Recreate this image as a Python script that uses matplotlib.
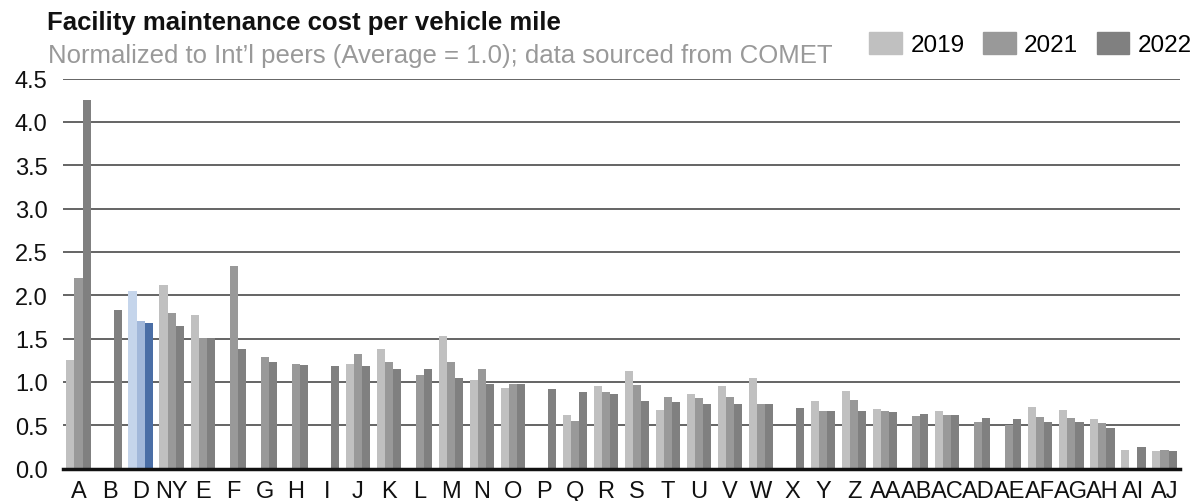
import matplotlib
matplotlib.use("Agg")
import matplotlib.pyplot as plt
import numpy as np

plt.rcParams['font.family'] = ['Liberation Sans', 'DejaVu Sans']

nan = np.nan

# categories and values (normalized cost)
categories = ["A", "B", "D", "NY", "E", "F", "G", "H", "I", "J", "K", "L", "M", "N", "O",
              "P", "Q", "R", "S", "T", "U", "V", "W", "X", "Y", "Z", "AA", "AB", "AC",
              "AD", "AE", "AF", "AG", "AH", "AI", "AJ"]
years = ["2019", "2021", "2022"]
v2019 = [1.25, nan, 2.05, 2.12, 1.77, nan, nan, nan, nan, 1.21, 1.38, nan, 1.53, 1.02, 0.93,
         nan, 0.62, 0.95, 1.13, 0.67, 0.86, 0.95, 1.05, nan, 0.78, 0.90, 0.69, nan, 0.66,
         nan, nan, 0.71, 0.67, 0.57, 0.21, 0.20]
v2021 = [2.20, nan, 1.70, 1.79, 1.51, 2.34, 1.29, 1.21, nan, 1.32, 1.23, 1.08, 1.23, 1.15, 0.97,
         nan, 0.55, 0.88, 0.96, 0.82, 0.81, 0.83, 0.75, nan, 0.66, 0.79, 0.66, 0.61, 0.62,
         0.54, 0.50, 0.60, 0.58, 0.52, nan, 0.21]
v2022 = [4.25, 1.83, 1.68, 1.65, 1.51, 1.38, 1.23, 1.20, 1.18, 1.18, 1.15, 1.15, 1.04, 0.97, 0.97,
         0.92, 0.88, 0.86, 0.78, 0.77, 0.75, 0.74, 0.74, 0.70, 0.66, 0.66, 0.65, 0.63, 0.62,
         0.58, 0.57, 0.54, 0.54, 0.47, 0.25, 0.20]
highlight = "D"

grey = ["#c0c0c0", "#999999", "#808080"]
blue = ["#c5d5eb", "#a2b8da", "#4a6ea6"]

fig = plt.figure(figsize=(11.99, 5.02), dpi=100)
ax = fig.add_axes([63 / 1199, 1 - 469.5 / 502, (1180 - 63) / 1199, (469.5 - 79.5) / 502])

x = np.arange(len(categories))
w = 0.26
for i, (vals, yr) in enumerate(zip([v2019, v2021, v2022], years)):
    cols = [blue[i] if c == highlight else grey[i] for c in categories]
    ax.bar(x + (i - 1) * w, vals, width=w, color=cols, label=yr, zorder=3, linewidth=0)

ax.set_xlim(-0.5, len(categories) - 0.5)
ax.set_ylim(0, 4.5)
ax.set_yticks(np.arange(0, 4.51, 0.5))
ax.set_yticklabels([f"{t:.1f}" for t in np.arange(0, 4.51, 0.5)])
ax.set_xticks(x)
ax.set_xticklabels(categories)
ax.tick_params(axis='both', length=0, labelsize=17, colors='#111111')
ax.tick_params(axis='y', pad=11)
ax.tick_params(axis='x', pad=8)

ax.yaxis.grid(True, color='#4a4a4a', linewidth=1.2, zorder=0)
ax.set_axisbelow(True)
for s in ['top', 'right', 'left']:
    ax.spines[s].set_visible(False)
ax.spines['bottom'].set_linewidth(2.5)
ax.spines['bottom'].set_color('#111111')
ax.spines['bottom'].set_zorder(5)

fig.text(47 / 1199, 1 - 30 / 502, "Facility maintenance cost per vehicle mile",
         fontsize=18.5, fontweight='bold', va='baseline', ha='left', color='#111111')
fig.text(48 / 1199, 1 - 62.5 / 502,
         "Normalized to Int\u2019l peers (Average = 1.0); data sourced from COMET",
         fontsize=18.5, va='baseline', ha='left', color='#999999')

handles = [plt.Rectangle((0, 0), 1, 1, color=c) for c in grey]
fig.legend(handles, years, loc='center right', bbox_to_anchor=(1192 / 1199, 1 - 45 / 502),
           ncol=3, frameon=False, fontsize=17.5, handlelength=1.35, handleheight=1.0,
           handletextpad=0.35, columnspacing=0.75, borderpad=0, borderaxespad=0)

fig.savefig("out.png", dpi=100)
